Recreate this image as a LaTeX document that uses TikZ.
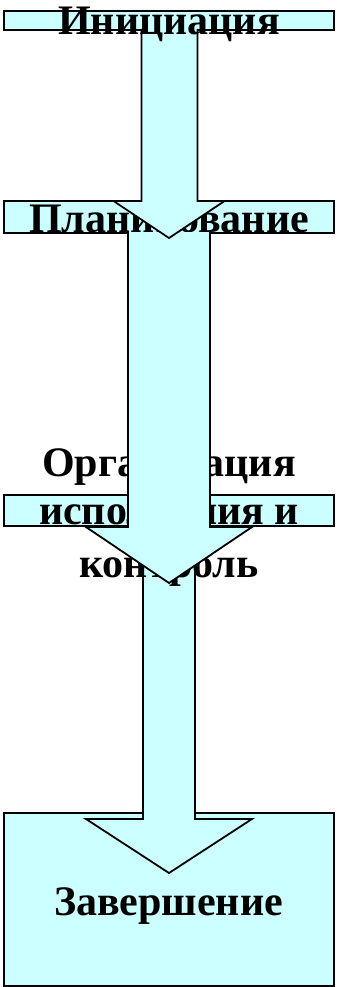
\documentclass[tikz,border=0pt]{standalone}
\usepackage{fontspec}
\setmainfont{Liberation Serif}
\definecolor{boxfill}{HTML}{CCFFFF}
\tikzset{
  panel/.style={draw=black, line width=1.8pt, fill=boxfill, minimum width=330pt, inner sep=0pt, outer sep=0pt},
  lbl/.style={font=\fontsize{42}{48}\selectfont\bfseries, anchor=base, inner sep=0pt},
  arrowline/.style={draw=black, line width=1.8pt, line join=miter},
  arrowfill/.style={fill=boxfill},
}
\begin{document}
\begin{tikzpicture}[x=1pt,y=-1pt]
\useasboundingbox (0,0) rectangle (337,987);
% stage 4
\node[panel, minimum height=173pt] (b4) at (169,899.5) {};
\node[lbl] (t4) at (168.5,915) {Завершение};
% stage 3 box
\node[panel, minimum height=31pt] (b3) at (169,510.5) {};
% arrow 3
\fill[arrowfill] (143,525) -- (143,819) -- (86,819) -- (169,873) -- (252,819) -- (195,819) -- (195,525) -- cycle;
\draw[arrowline] (143,525) -- (143,819) -- (86,819) -- (169,873) -- (252,819) -- (195,819) -- (195,525);
% stage 3 text
\node[lbl] (t3a) at (169,476) {Организация};
\node[lbl] (t3b) at (169,524.5) {исполнения и};
\node[lbl] (t3c) at (169,577) {контроль};
% stage 2
\node[panel, minimum height=32pt] (b2) at (169,217) {};
\node[lbl] (t2) at (169,232) {Планирование};
% arrow 2
\fill[arrowfill] (128,232) -- (128,527) -- (86,527) -- (169,583) -- (252,527) -- (210,527) -- (210,232) -- cycle;
\draw[arrowline] (128,232) -- (128,527) -- (86,527) -- (169,583) -- (252,527) -- (210,527) -- (210,232);
% stage 1
\node[panel, minimum height=19pt] (b1) at (169,20.5) {};
\fill[arrowfill] (141.5,29) -- (141.5,201) -- (113.5,201) -- (169,238) -- (224.5,201) -- (197.5,201) -- (197.5,29) -- cycle;
\draw[arrowline] (141.5,29) -- (141.5,201) -- (113.5,201) -- (169,238) -- (224.5,201) -- (197.5,201) -- (197.5,29);
\node[lbl] (t1) at (169,34.5) {Инициация};
\end{tikzpicture}
\end{document}
